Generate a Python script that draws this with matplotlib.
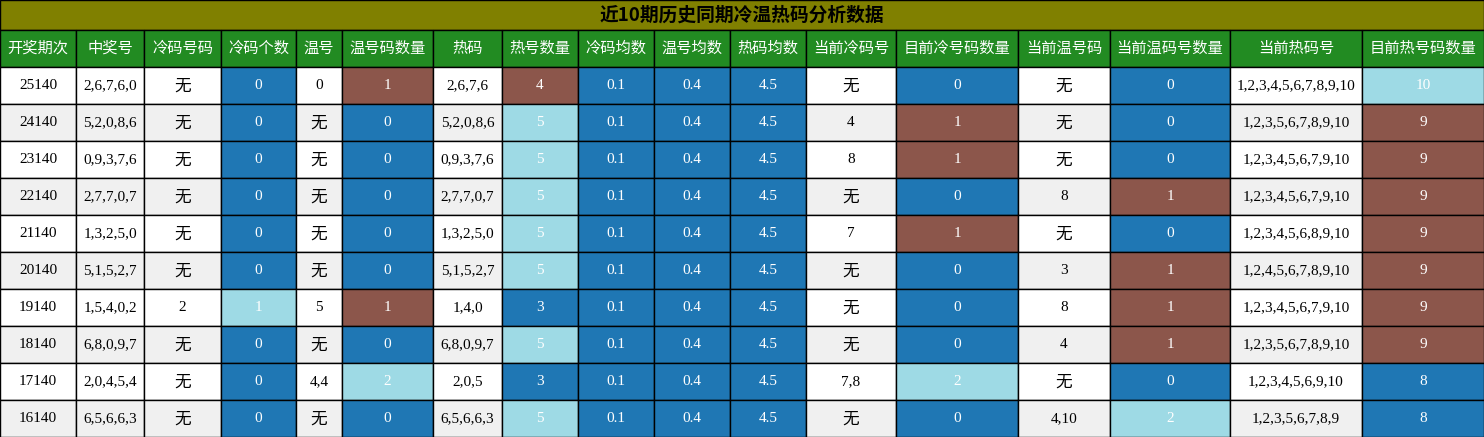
import matplotlib
matplotlib.use("Agg")
import matplotlib.pyplot as plt
from matplotlib.patches import Rectangle

title = "近10期历史同期冷温热码分析数据"
headers = ["开奖期次","中奖号","冷码号码","冷码个数","温号","温号码数量","热码","热号数量",
           "冷码均数","温号均数","热码均数","当前冷码号","目前冷号码数量","当前温号码",
           "当前温码号数量","当前热码号","目前热号码数量"]
periods = ["25140","24140","23140","22140","21140","20140","19140","18140","17140","16140"]
winning = ["2,6,7,6,0","5,2,0,8,6","0,9,3,7,6","2,7,7,0,7","1,3,2,5,0","5,1,5,2,7","1,5,4,0,2","6,8,0,9,7","2,0,4,5,4","6,5,6,6,3"]
cold_nums = ["无","无","无","无","无","无","2","无","无","无"]
cold_cnt = [0,0,0,0,0,0,1,0,0,0]
warm_nums = ["0","无","无","无","无","无","5","无","4,4","无"]
warm_cnt = [1,0,0,0,0,0,1,0,2,0]
hot_nums = ["2,6,7,6","5,2,0,8,6","0,9,3,7,6","2,7,7,0,7","1,3,2,5,0","5,1,5,2,7","1,4,0","6,8,0,9,7","2,0,5","6,5,6,6,3"]
hot_cnt = [4,5,5,5,5,5,3,5,3,5]
cold_avg = [0.1]*10
warm_avg = [0.4]*10
hot_avg = [4.5]*10
cur_cold = ["无","4","8","无","7","无","无","无","7,8","无"]
cur_cold_cnt = [0,1,1,0,1,0,0,0,2,0]
cur_warm = ["无","无","无","8","无","3","8","4","无","4,10"]
cur_warm_cnt = [0,0,0,1,0,1,1,1,0,2]
cur_hot = ["1,2,3,4,5,6,7,8,9,10","1,2,3,5,6,7,8,9,10","1,2,3,4,5,6,7,9,10","1,2,3,4,5,6,7,9,10",
           "1,2,3,4,5,6,8,9,10","1,2,4,5,6,7,8,9,10","1,2,3,4,5,6,7,9,10","1,2,3,5,6,7,8,9,10",
           "1,2,3,4,5,6,9,10","1,2,3,5,6,7,8,9"]
cur_hot_cnt = [10,9,9,9,9,9,9,9,8,8]

columns = [periods, winning, cold_nums, cold_cnt, warm_nums, warm_cnt, hot_nums, hot_cnt,
           cold_avg, warm_avg, hot_avg, cur_cold, cur_cold_cnt, cur_warm, cur_warm_cnt, cur_hot, cur_hot_cnt]
numeric_cols = {3,5,7,8,9,10,12,14,16}

xb = [0,76,144,221,296,342,433,502,578,654,730,806,896,1018,1110,1230,1362,1484]
W, H = 1484, 437
title_h, head_h, row_h = 30, 37, 37

BLUE, BROWN, LBLUE = "#1f77b4", "#8c564b", "#9edae5"

fig = plt.figure(figsize=(W/100, H/100), dpi=100)
ax = fig.add_axes([0,0,1,1])
ax.set_xlim(0, W); ax.set_ylim(H, 0); ax.axis("off")

cjk = ["Noto Sans CJK SC", "DejaVu Sans"]
serif = ["Liberation Serif", "Noto Sans CJK SC"]
lw = 1.0

ax.add_patch(Rectangle((0,0), W, title_h, fc="#808000", ec="black", lw=lw))
ax.text(W/2, title_h/2, title, ha="center", va="center", fontsize=13.5, fontweight="bold", family=cjk, color="black")
for j, h in enumerate(headers):
    ax.add_patch(Rectangle((xb[j], title_h), xb[j+1]-xb[j], head_h, fc="#228b22", ec="black", lw=lw))
    ax.text((xb[j]+xb[j+1])/2, title_h+head_h/2, h, ha="center", va="center", fontsize=11, color="white", family=cjk)

def color_for(col, v):
    vals = sorted(set(col))
    if len(vals) == 1 or v == vals[0]:
        return BLUE
    if v == vals[-1]:
        return LBLUE
    return BROWN

for i in range(10):
    y0 = title_h + head_h + i*row_h
    base = "white" if i % 2 == 0 else "#f0f0f0"
    for j, col in enumerate(columns):
        v = col[i]
        if j in numeric_cols:
            fc = color_for(col, v)
            tc = "white"
        else:
            fc = base; tc = "black"
        ax.add_patch(Rectangle((xb[j], y0), xb[j+1]-xb[j], row_h, fc=fc, ec="black", lw=lw))
        s = str(v)
        if s == "无":
            ax.text((xb[j]+xb[j+1])/2, y0+row_h/2+1, s, ha="center", va="center", fontsize=12, color=tc, family=cjk)
        else:
            ax.text((xb[j]+xb[j+1])/2, y0+row_h/2, s, ha="center", va="center", fontsize=11, color=tc, family=serif)

fig.savefig("out.png", dpi=100)
